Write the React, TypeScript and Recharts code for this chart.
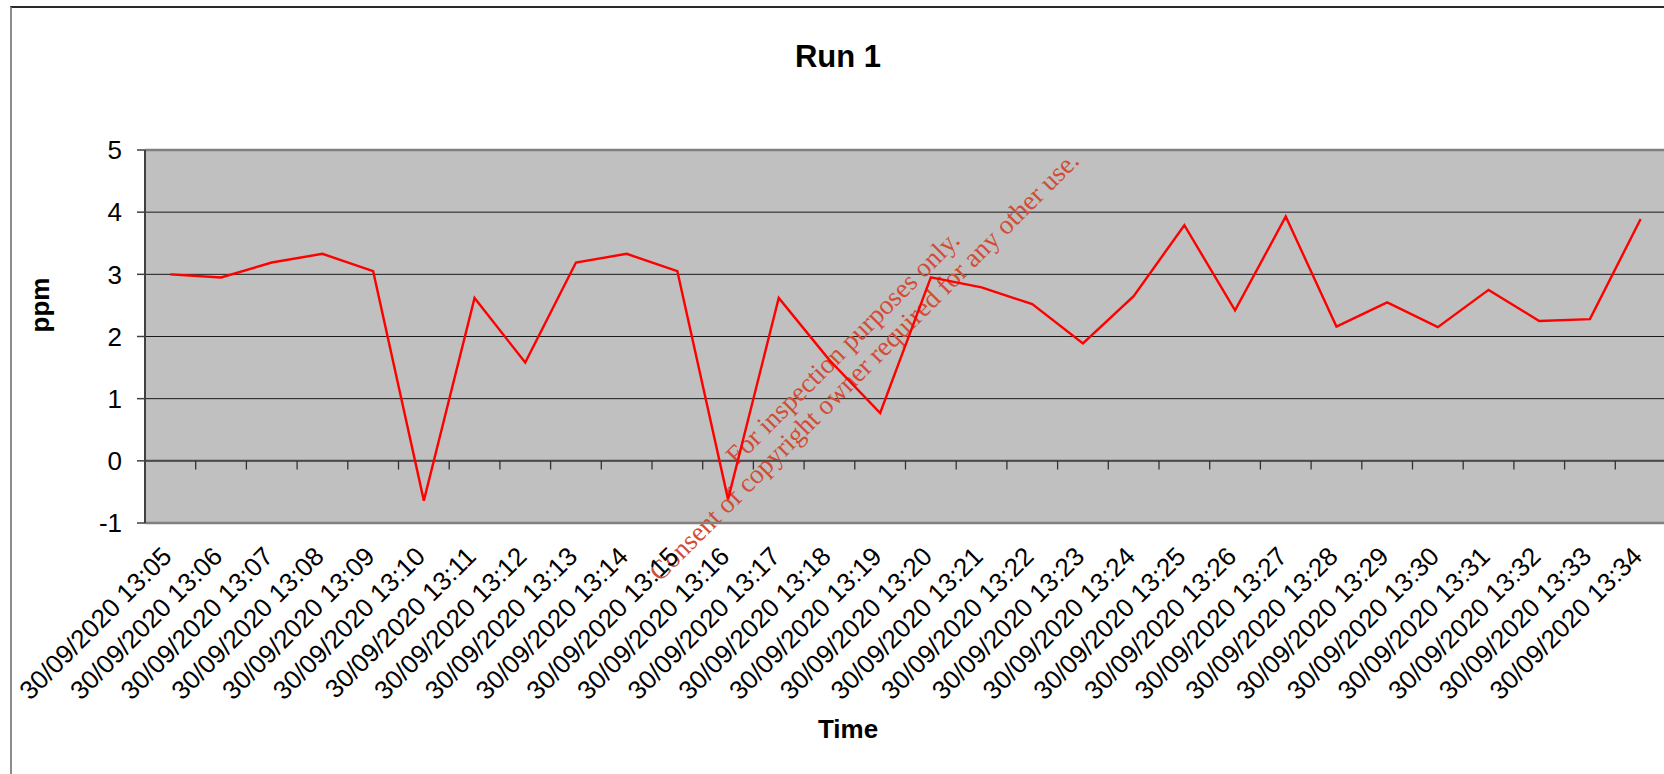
import React from 'react';
import {
  ComposedChart,
  Line,
  XAxis,
  YAxis,
  CartesianGrid,
  ReferenceLine,
  Customized,
} from 'recharts';

// Sample times (one reading per minute)
const times: string[] = [
  '30/09/2020 13:05',
  '30/09/2020 13:06',
  '30/09/2020 13:07',
  '30/09/2020 13:08',
  '30/09/2020 13:09',
  '30/09/2020 13:10',
  '30/09/2020 13:11',
  '30/09/2020 13:12',
  '30/09/2020 13:13',
  '30/09/2020 13:14',
  '30/09/2020 13:15',
  '30/09/2020 13:16',
  '30/09/2020 13:17',
  '30/09/2020 13:18',
  '30/09/2020 13:19',
  '30/09/2020 13:20',
  '30/09/2020 13:21',
  '30/09/2020 13:22',
  '30/09/2020 13:23',
  '30/09/2020 13:24',
  '30/09/2020 13:25',
  '30/09/2020 13:26',
  '30/09/2020 13:27',
  '30/09/2020 13:28',
  '30/09/2020 13:29',
  '30/09/2020 13:30',
  '30/09/2020 13:31',
  '30/09/2020 13:32',
  '30/09/2020 13:33',
  '30/09/2020 13:34',
];

// Measured concentration (ppm) for Run 1
const ppmValues: number[] = [
  3.0, 2.95, 3.19, 3.33, 3.05, -0.64, 2.62, 1.58, 3.19, 3.33,
  3.05, -0.62, 2.62, 1.62, 0.77, 2.95, 2.79, 2.52, 1.89, 2.65,
  3.79, 2.42, 3.93, 2.16, 2.55, 2.15, 2.75, 2.25, 2.28, 3.89,
];

const yTicks: number[] = [-1, 0, 1, 2, 3, 4, 5];
const yDomain: [number, number] = [-1, 5];

// Depth of the small tick marks hanging below the zero line, in ppm units
const ZERO_TICK_DEPTH = 0.14;

const data = times.map((time, i) => ({ time, ppm: ppmValues[i] }));

const SANS = '"Liberation Sans", Arial, Helvetica, sans-serif';
const SERIF = '"Liberation Serif", "Times New Roman", serif';

const TimeTick = (props: any) => {
  const { x, y, payload } = props;
  return (
    <text
      transform={`translate(${x + 3},${y + 35}) rotate(-45)`}
      textAnchor="end"
      fontSize={26}
      fontFamily={SANS}
      fill="#000"
    >
      {payload.value}
    </text>
  );
};

const Titles = () => (
  <g>
    <text
      x={838}
      y={66.5}
      textAnchor="middle"
      fontSize={31}
      fontWeight="bold"
      fontFamily={SANS}
      fill="#000"
    >
      Run 1
    </text>
    <text
      transform="translate(49,305) rotate(-90)"
      textAnchor="middle"
      fontSize={26}
      fontWeight="bold"
      fontFamily={SANS}
      fill="#000"
    >
      ppm
    </text>
    <text
      x={848}
      y={738}
      textAnchor="middle"
      fontSize={26}
      fontWeight="bold"
      fontFamily={SANS}
      fill="#000"
    >
      Time
    </text>
  </g>
);

const Watermark = () => (
  <g transform="translate(849,354) rotate(-45)" fontFamily={SERIF} fontSize={27} fill="#d24c36">
    <text x={0} y={0} textAnchor="middle">For inspection purposes only.</text>
    <text x={2} y={28} textAnchor="middle">Consent of copyright owner required for any other use.</text>
  </g>
);

export default function App() {
  return (
    <div
      style={{
        position: 'absolute',
        left: 0,
        top: 0,
        width: 1664,
        height: 774,
        overflow: 'hidden',
        background: '#fff',
      }}
    >
      <div
        style={{
          position: 'absolute',
          left: 10,
          top: 6,
          width: 1700,
          height: 820,
          borderTop: '2px solid #2a2a2a',
          borderLeft: '2px solid #8c8c8c',
        }}
      />
      <div style={{ position: 'absolute', left: 0, top: 0 }}>
        <ComposedChart
          width={1668}
          height={774}
          data={data}
          margin={{ top: 150, right: 2, bottom: 0, left: 0 }}
        >
          <CartesianGrid
            vertical={false}
            fill="#C0C0C0"
            fillOpacity={1}
            stroke="#1a1a1a"
            strokeWidth={1}
          />
          <XAxis
            dataKey="time"
            type="category"
            scale="band"
            interval={0}
            height={251}
            axisLine={false}
            tickLine={false}
            tickSize={0}
            tickMargin={0}
            tick={(p: any) => <TimeTick {...p} />}
          />
          <YAxis
            type="number"
            domain={yDomain}
            ticks={yTicks}
            interval={0}
            width={145}
            tickSize={8}
            tickMargin={15}
            axisLine={{ stroke: '#404040', strokeWidth: 2 }}
            tickLine={{ stroke: '#404040', strokeWidth: 1.5 }}
            tick={{ fontSize: 26, fill: '#000', fontFamily: SANS }}
            allowDataOverflow
          />
          <ReferenceLine y={5} stroke="#808080" strokeWidth={2.5} />
          <ReferenceLine y={-1} stroke="#808080" strokeWidth={2.5} />
          <ReferenceLine y={0} stroke="#4a4a4a" strokeWidth={2} />
          {times.slice(1).map((t) => (
            <ReferenceLine
              key={t}
              segment={[
                { x: t, y: 0 },
                { x: t, y: -ZERO_TICK_DEPTH },
              ]}
              position="start"
              stroke="#333"
              strokeWidth={1.3}
            />
          ))}
          <Line
            type="linear"
            dataKey="ppm"
            stroke="#ff0000"
            strokeWidth={2.4}
            dot={false}
            activeDot={false}
            isAnimationActive={false}
          />
          <Customized component={Titles} />
          <Customized component={Watermark} />
        </ComposedChart>
      </div>
    </div>
  );
}
